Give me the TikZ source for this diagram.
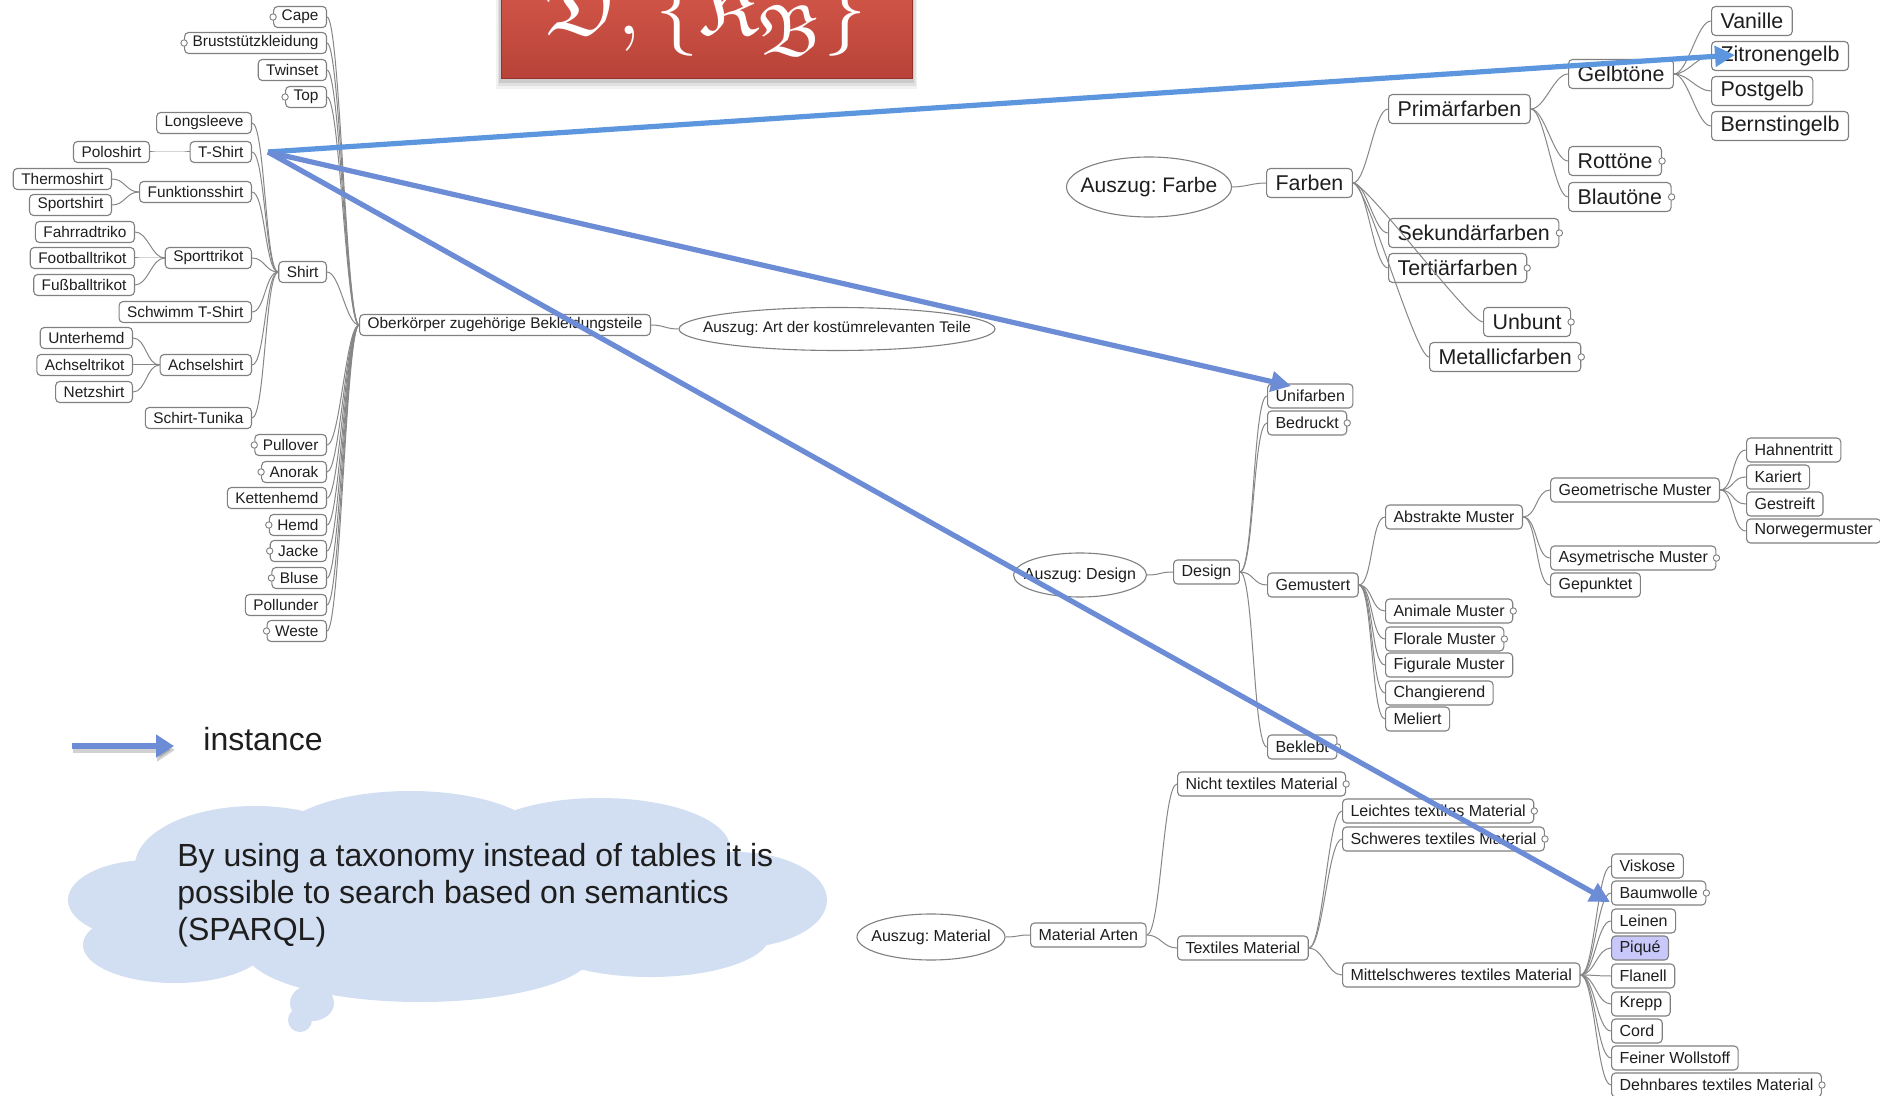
\documentclass[tikz,border=0pt]{standalone}
\usepackage{amsfonts}
\usepackage{fontspec}
\setmainfont{Liberation Sans}
\usetikzlibrary{shapes.geometric,arrows.meta,calc}

\definecolor{boxline}{RGB}{128,128,128}
\definecolor{linkgray}{RGB}{135,135,135}
\definecolor{txt}{RGB}{30,30,30}
\definecolor{instblue}{RGB}{108,140,214}
\definecolor{instblueB}{RGB}{92,150,222}
\definecolor{cloudc}{RGB}{210,222,242}
\definecolor{piquefill}{RGB}{200,200,250}
\definecolor{bannertop}{RGB}{212,88,74}
\definecolor{bannerbot}{RGB}{184,66,56}
\definecolor{bannerline}{RGB}{150,52,44}

% parent on the right, child on the left
\newcommand\lnL[3][13]{\draw[link] (#2.west) .. controls +(-#1,0) and +(#1,0) .. (#3.east);}
% parent on the left, child on the right
\newcommand\lnR[3][14]{\draw[link] (#2.east) .. controls +(#1,0) and +(-#1,0) .. (#3.west);}
% text of an oval that keeps the oval at its given size
\newcommand\ovaltext[1]{\makebox[0pt]{#1}}

\begin{document}
\frenchspacing
\begin{tikzpicture}[x=0.5pt,y=-0.5pt,
  every node/.style={text=txt, inner sep=0pt},
  lbox/.style={draw=boxline, fill=white, rounded corners=2pt, line width=0.55pt,
               font=\fontsize{7.7}{9}\selectfont, minimum height=10.5pt, inner xsep=4pt},
  cbox/.style={lbox, font=\fontsize{10.7}{12}\selectfont, minimum height=14.5pt, inner xsep=4.5pt},
  dbox/.style={lbox, font=\fontsize{8}{10}\selectfont, minimum height=12pt, inner xsep=4pt},
  oval/.style={ellipse, draw=boxline, fill=white, line width=0.55pt},
  link/.style={draw=linkgray, line width=0.5pt},
  fold/.style={draw=boxline, fill=white, line width=0.45pt},
  inst/.style={line width=2.6pt, -{Triangle[length=10pt,width=10pt]}}
]
\useasboundingbox (0,0) rectangle (1880,1096);
\clip (0,0) rectangle (1880,1096);
\fill[white] (0,0) rectangle (1880,1096);

% ---------- thought cloud ----------
\begin{scope}[fill=cloudc]
  \fill (255,866) ellipse [x radius=60pt, y radius=30pt];
  \fill (410,843) ellipse [x radius=67.5pt, y radius=26pt];
  \fill (600,848) ellipse [x radius=65pt, y radius=25pt];
  \fill (735,900) ellipse [x radius=46pt, y radius=24pt];
  \fill (150,900) ellipse [x radius=41pt, y radius=20pt];
  \fill (175,945) ellipse [x radius=46pt, y radius=19pt];
  \fill (420,950) ellipse [x radius=87.5pt, y radius=26pt];
  \fill (650,935) ellipse [x radius=60pt, y radius=21pt];
  \fill (450,900) ellipse [x radius=160pt, y radius=35pt];
  \fill (312,1003) ellipse [x radius=11pt, y radius=9pt];
  \fill (300,1020) circle [radius=6pt];
\end{scope}
\node[anchor=north west, align=left, font=\fontsize{16}{18.5}\selectfont] (note) at (177,843)
  {By using a taxonomy instead of tables it is\\possible to search based on semantics\\(SPARQL)};

% ---------- legend ----------
\coordinate (legA) at (72,746);
\coordinate (legB) at (174,746);
\draw[line width=3pt, black, opacity=0.18, -{Triangle[length=9pt,width=11pt]}]
  ([shift={(1,4)}]legA) -- ([shift={(1,4)}]legB);
\draw[line width=3pt, instblue, -{Triangle[length=9pt,width=11pt]}] (legA) -- (legB);
\node[anchor=base west, font=\fontsize{16}{19}\selectfont] (insttext) at (203,750) {instance};

% ---------- garments (grows to the left) ----------
\node[oval, minimum width=158pt, minimum height=21.5pt, font=\fontsize{7.7}{9}\selectfont] (art) at (837,329)
  {\ovaltext{Auszug: Art der kostümrelevanten Teile}};
\node[lbox, anchor=east] (ober) at (651,325) {Oberkörper zugehörige Bekleidungsteile};

\node[lbox, anchor=east] (cape) at (327,17) {Cape};
\node[lbox, anchor=east] (brust) at (327,43) {Bruststützkleidung};
\node[lbox, anchor=east] (twinset) at (327,70) {Twinset};
\node[lbox, anchor=east] (top) at (327,97) {Top};
\node[lbox, anchor=east] (shirt) at (327,272) {Shirt};
\node[lbox, anchor=east] (pullover) at (327,445) {Pullover};
\node[lbox, anchor=east] (anorak) at (327,472) {Anorak};
\node[lbox, anchor=east] (ketten) at (327,498) {Kettenhemd};
\node[lbox, anchor=east] (hemd) at (327,525) {Hemd};
\node[lbox, anchor=east] (jacke) at (327,551) {Jacke};
\node[lbox, anchor=east] (bluse) at (327,578) {Bluse};
\node[lbox, anchor=east] (pollunder) at (327,605) {Pollunder};
\node[lbox, anchor=east] (weste) at (327,631) {Weste};

\node[lbox, anchor=east] (longsleeve) at (252,123) {Longsleeve};
\node[lbox, anchor=east] (tshirt) at (252,152) {T-Shirt};
\node[lbox, anchor=east] (funktion) at (252,192) {Funktionsshirt};
\node[lbox, anchor=east] (sporttrikot) at (252,258) {Sporttrikot};
\node[lbox, anchor=east] (schwimm) at (252,312) {Schwimm T-Shirt};
\node[lbox, anchor=east] (achselshirt) at (252,365) {Achselshirt};
\node[lbox, anchor=east] (tunika) at (252,418) {Schirt-Tunika};

\node[lbox, anchor=east] (polo) at (150,152) {Poloshirt};
\node[lbox, anchor=east] (thermo) at (112,179) {Thermoshirt};
\node[lbox, anchor=east] (sportshirt) at (112,205) {Sportshirt};
\node[lbox, anchor=east] (fahrrad) at (135,232) {Fahrradtriko};
\node[lbox, anchor=east] (football) at (135,258) {Footballtrikot};
\node[lbox, anchor=east] (fussball) at (135,285) {Fußballtrikot};
\node[lbox, anchor=east] (unterhemd) at (133,338) {Unterhemd};
\node[lbox, anchor=east] (achseltrikot) at (133,365) {Achseltrikot};
\node[lbox, anchor=east] (netz) at (133,392) {Netzshirt};

% ---------- colours ----------
\node[oval, minimum width=82.5pt, minimum height=30pt, font=\fontsize{10.5}{12}\selectfont] (farbe) at (1149,187) {\ovaltext{Auszug: Farbe}};
\node[cbox, anchor=west] (farben) at (1266,183) {Farben};
\node[cbox, anchor=west] (primaer) at (1388,109) {Primärfarben};
\node[cbox, anchor=west] (sekundaer) at (1388,233) {Sekundärfarben};
\node[cbox, anchor=west] (tertiaer) at (1388,268) {Tertiärfarben};
\node[cbox, anchor=west] (unbunt) at (1483,322) {Unbunt};
\node[cbox, anchor=west] (metallic) at (1429,357) {Metallicfarben};
\node[cbox, anchor=west] (gelb) at (1568,74) {Gelbtöne};
\node[cbox, anchor=west] (rot) at (1568,161) {Rottöne};
\node[cbox, anchor=west] (blau) at (1568,197) {Blautöne};
\node[cbox, anchor=west] (vanille) at (1711,21) {Vanille};
\node[cbox, anchor=west] (zitrone) at (1711,56) {Zitronengelb};
\node[cbox, anchor=west] (postgelb) at (1711,91) {Postgelb};
\node[cbox, anchor=west] (bernstein) at (1711,126) {Bernstingelb};

% ---------- design ----------
\node[oval, minimum width=66.5pt, minimum height=22pt, font=\fontsize{8}{10}\selectfont] (ausdesign) at (1080,575) {\ovaltext{Auszug: Design}};
\node[dbox, anchor=west] (design) at (1173,572) {Design};
\node[dbox, anchor=west] (unifarben) at (1267,396) {Unifarben};
\node[dbox, anchor=west] (bedruckt) at (1267,423) {Bedruckt};
\node[dbox, anchor=west] (gemustert) at (1267,585) {Gemustert};
\node[dbox, anchor=west] (beklebt) at (1267,747) {Beklebt};
\node[dbox, anchor=west] (abstrakt) at (1385,517) {Abstrakte Muster};
\node[dbox, anchor=west] (animal) at (1385,611) {Animale Muster};
\node[dbox, anchor=west] (floral) at (1385,639) {Florale Muster};
\node[dbox, anchor=west] (figural) at (1385,665) {Figurale Muster};
\node[dbox, anchor=west] (changierend) at (1385,693) {Changierend};
\node[dbox, anchor=west] (meliert) at (1385,719) {Meliert};
\node[dbox, anchor=west] (geometrisch) at (1550,490) {Geometrische Muster};
\node[dbox, anchor=west] (asymetrisch) at (1550,558) {Asymetrische Muster};
\node[dbox, anchor=west] (gepunktet) at (1550,585) {Gepunktet};
\node[dbox, anchor=west] (hahnentritt) at (1746,450) {Hahnentritt};
\node[dbox, anchor=west] (kariert) at (1746,477) {Kariert};
\node[dbox, anchor=west] (gestreift) at (1746,504) {Gestreift};
\node[dbox, anchor=west] (norweger) at (1746,531) {Norwegermuster};

% ---------- material ----------
\node[oval, minimum width=74pt, minimum height=23pt, font=\fontsize{8}{10}\selectfont] (ausmaterial) at (931,937) {\ovaltext{Auszug: Material}};
\node[dbox, anchor=west] (arten) at (1030,935) {Material Arten};
\node[dbox, anchor=west] (nicht) at (1177,784) {Nicht textiles Material};
\node[dbox, anchor=west] (textil) at (1177,948) {Textiles Material};
\node[dbox, anchor=west] (leicht) at (1342,811) {Leichtes textiles Material};
\node[dbox, anchor=west] (schwer) at (1342,839) {Schweres textiles Material};
\node[dbox, anchor=west] (mittel) at (1342,975) {Mittelschweres textiles Material};
\node[dbox, anchor=west] (viskose) at (1611,866) {Viskose};
\node[dbox, anchor=west] (baumwolle) at (1611,893) {Baumwolle};
\node[dbox, anchor=west] (leinen) at (1611,921) {Leinen};
\node[dbox, anchor=west, fill=piquefill] (pique) at (1611,948) {Piqué};
\node[dbox, anchor=west] (flanell) at (1611,976) {Flanell};
\node[dbox, anchor=west] (krepp) at (1611,1004) {Krepp};
\node[dbox, anchor=west] (cord) at (1611,1031) {Cord};
\node[dbox, anchor=west] (feiner) at (1611,1058) {Feiner Wollstoff};
\node[dbox, anchor=west] (dehnbar) at (1611,1085) {Dehnbares textiles Material};

% ---------- connectors ----------
\lnL{art}{ober}
\foreach \c in {cape,brust,twinset,top,shirt,pullover,anorak,ketten,hemd,jacke,bluse,pollunder,weste} {\lnL{ober}{\c}}
\foreach \c in {longsleeve,tshirt,funktion,sporttrikot,schwimm,achselshirt,tunika} {\lnL{shirt}{\c}}
\lnL{tshirt}{polo}
\foreach \c in {thermo,sportshirt} {\lnL{funktion}{\c}}
\foreach \c in {fahrrad,football,fussball} {\lnL{sporttrikot}{\c}}
\foreach \c in {unterhemd,achseltrikot,netz} {\lnL{achselshirt}{\c}}

\lnR{farbe}{farben}
\foreach \c in {primaer,sekundaer,tertiaer,unbunt,metallic} {\lnR{farben}{\c}}
\foreach \c in {gelb,rot,blau} {\lnR{primaer}{\c}}
\foreach \c in {vanille,zitrone,postgelb,bernstein} {\lnR{gelb}{\c}}

\lnR{ausdesign}{design}
\foreach \c in {unifarben,bedruckt,gemustert,beklebt} {\lnR{design}{\c}}
\foreach \c in {abstrakt,animal,floral,figural,changierend,meliert} {\lnR{gemustert}{\c}}
\foreach \c in {geometrisch,asymetrisch,gepunktet} {\lnR{abstrakt}{\c}}
\foreach \c in {hahnentritt,kariert,gestreift,norweger} {\lnR{geometrisch}{\c}}

\lnR{ausmaterial}{arten}
\foreach \c in {nicht,textil} {\lnR{arten}{\c}}
\foreach \c in {leicht,schwer,mittel} {\lnR{textil}{\c}}
\foreach \c in {viskose,baumwolle,leinen,pique,flanell,krepp,cord,feiner,dehnbar} {\lnR{mittel}{\c}}

% collapsed-branch markers
\foreach \n in {cape,brust,top,pullover,anorak,hemd,jacke,bluse,weste}
  \draw[fold] (\n.west) circle [radius=1.6pt];
\foreach \n in {rot,blau,sekundaer,tertiaer,unbunt,metallic,bedruckt,beklebt,asymetrisch,animal,floral,nicht,leicht,schwer,baumwolle,dehnbar}
  \draw[fold] (\n.east) circle [radius=1.6pt];

% ---------- banner ----------
\foreach \k/\o in {10/0.05,7/0.07,4/0.09}
  \fill[black, opacity=\o] (501-\k/2,-20) rectangle (912+\k/2,79+\k);
\shade[top color=bannertop, bottom color=bannerbot, draw=bannerline, line width=0.5pt]
  (501,-20) rectangle (912,79);
\node[text=white, anchor=base] (title) at (706,35)
  {\scalebox{1.75}{\fontsize{24.88}{30}\selectfont$\mathfrak{D},\{\mathfrak{K}_{\mathfrak{B}}\}$}};

% ---------- instance arrows ----------
\coordinate (src) at ($(tshirt.east)+(16,0)$);
\coordinate (tipA) at ($(zitrone.west)+(24,-1)$);
\coordinate (tipB) at ($(unifarben.west)+(24,-10)$);
\coordinate (tipC) at ($(baumwolle.west)+(-1,9)$);
\draw[inst, instblueB] (src) -- (tipA);
\draw[inst, instblue] (src) -- (tipB);
\draw[inst, instblue] (src) -- (tipC);
\end{tikzpicture}
\end{document}
